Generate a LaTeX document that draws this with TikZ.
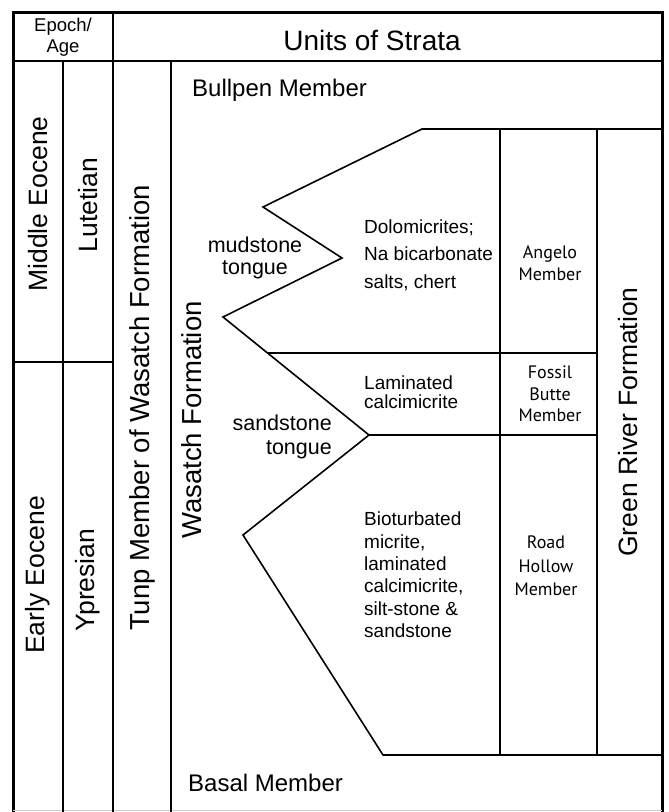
\documentclass[tikz,border=0pt]{standalone}
\usepackage{fontspec}
\setmainfont{Liberation Sans}
\newfontfamily\myr{PT Sans}
\begin{document}
\begin{tikzpicture}[x=1pt,y=-1pt,line join=miter]
\tikzset{
  inner/.style={line width=1.6pt},
  frame/.style={line width=3pt},
  lbl/.style={inner sep=0pt},
  vlbl/.style={inner sep=0pt,rotate=90,font=\fontsize{26.5}{30}\selectfont},
  memb/.style={inner sep=0pt,align=center,font=\myr\fontsize{18}{21.5}\selectfont},
}
\useasboundingbox (0,0) rectangle (669,812);
% frame
\draw[frame] (13,812) -- (13,12) -- (662,12) -- (662,812);
\draw[gray!40,line width=1pt] (13,810) -- (662,810);
% grid
\draw[inner] (13,61) -- (662,61);
\draw[inner] (113,12) -- (113,812);
\draw[inner] (63,61) -- (63,812);
\draw[inner] (171,61) -- (171,812);
\draw[inner] (13,362) -- (113,362);
% zigzag boundary
\coordinate (z0) at (662,129);
\coordinate (z1) at (422,129);
\coordinate (z2) at (263,207);
\coordinate (z3) at (342,258);
\coordinate (z4) at (223,317);
\coordinate (z5) at (268,353);
\coordinate (z6) at (369,435);
\coordinate (z7) at (243,535);
\coordinate (z8) at (383,755);
\coordinate (z9) at (662,755);
\coordinate (a1) at (597,353);
\coordinate (a2) at (597,435);
\coordinate (c1t) at (500,129);
\coordinate (c1b) at (500,755);
\coordinate (c2t) at (597,129);
\coordinate (c2b) at (597,755);
\draw[inner] (z0) -- (z1) -- (z2) -- (z3) -- (z4) -- (z6) -- (z7) -- (z8) -- (z9);
\draw[inner] (z5) -- (a1);
\draw[inner] (z6) -- (a2);
\draw[inner] (c1t) -- (c1b);
\draw[inner] (c2t) -- (c2b);
% header texts
\node[lbl,align=center,font=\fontsize{18.5}{21}\selectfont] (epoch) at (63,37) {Epoch/\\Age};
\node[lbl,font=\fontsize{28}{32}\selectfont] (units) at (372,40) {Units of Strata};
% vertical labels
\node[vlbl] (middle) at (38,204) {Middle Eocene};
\node[vlbl] (lutetian) at (88,205) {Lutetian};
\node[vlbl] (early) at (38,575) {Early Eocene};
\node[vlbl] (ypresian) at (88,580) {Ypresian};
\node[vlbl,font=\fontsize{27.5}{30}\selectfont] (tunp) at (142,408) {Tunp Member of Wasatch Formation};
\node[vlbl,font=\fontsize{27.5}{30}\selectfont] (wasatch) at (192,420) {Wasatch Formation};
\node[vlbl] (green) at (628,422) {Green River Formation};
% member texts
\node[lbl,anchor=west,font=\fontsize{24}{28}\selectfont] (bullpen) at (192,90) {Bullpen Member};
\node[lbl,anchor=west,font=\fontsize{24}{28}\selectfont] (basal) at (188,783) {Basal Member};
\node[lbl,align=center,font=\fontsize{21.5}{21.5}\selectfont] (mud) at (255,258) {mudstone\\tongue};
\node[lbl,align=right,anchor=east,font=\fontsize{21.5}{24}\selectfont] (sand) at (332,437) {sandstone\\tongue};
\node[lbl,align=left,anchor=west,font=\fontsize{19}{27.5}\selectfont] (dolo) at (364,255) {Dolomicrites;\\Na bicarbonate\\salts, chert};
\node[lbl,align=left,anchor=west,font=\fontsize{19}{19.5}\selectfont] (lam) at (364,392) {Laminated\\calcimicrite};
\node[lbl,align=left,anchor=west,font=\fontsize{19}{22.4}\selectfont] (bio) at (364,575) {Bioturbated\\micrite,\\laminated\\calcimicrite,\\silt-stone \&\\sandstone};
\node[memb] (angelo) at (550,263) {Angelo\\Member};
\node[memb] (fossil) at (550,394) {Fossil\\Butte\\Member};
\node[memb,font=\myr\fontsize{18}{23.5}\selectfont] (road) at (546,566) {Road\\Hollow\\Member};
\end{tikzpicture}
\end{document}
